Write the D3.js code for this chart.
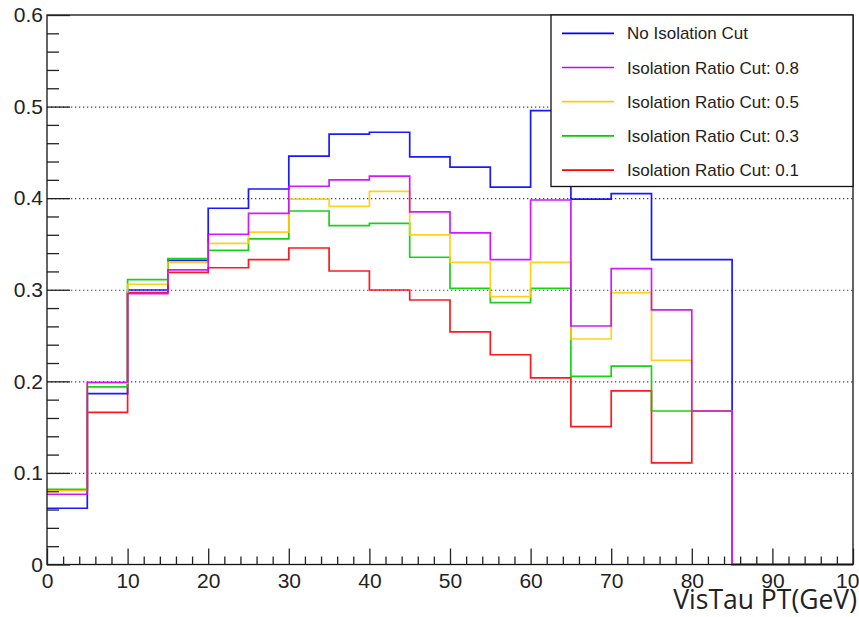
<!DOCTYPE html>
<html>
<head>
<meta charset="utf-8">
<script src="https://cdnjs.cloudflare.com/ajax/libs/d3/7.8.5/d3.min.js"></script>
<style>
	body { margin: 0; background: #fff; }
	svg { display: block; }
	.tick text { font-family: "Liberation Sans", Arial, sans-serif; font-size: 21px; fill: #222; }
	.legend text { font-family: "Liberation Sans", Arial, sans-serif; font-size: 17px; fill: #222; }
</style>
</head>
<body>
<div id="chart"></div>
<script>

// bin lower edges (GeV), width 5
var binLow = [0, 5, 10, 15, 20, 25, 30, 35, 40, 45, 50, 55, 60, 65, 70, 75, 80, 85, 90, 95]
var binWidth = 5

var noCut  = [0.0614, 0.1865, 0.2997, 0.332, 0.389, 0.410, 0.446, 0.470, 0.472, 0.445, 0.434, 0.412, 0.4955, 0.399, 0.405, 0.333, 0.333, 0, 0, 0]
var cut08  = [0.0767, 0.199, 0.2957, 0.3216, 0.3606, 0.3835, 0.413, 0.420, 0.424, 0.385, 0.362, 0.333, 0.398, 0.2604, 0.323, 0.278, 0.1676, 0, 0, 0]
var cut05  = [0.0806, 0.198, 0.306, 0.330, 0.3507, 0.363, 0.399, 0.391, 0.4075, 0.360, 0.330, 0.2924, 0.330, 0.2462, 0.2968, 0.223, 0.1676, 0, 0, 0]
var cut03  = [0.082, 0.194, 0.311, 0.334, 0.343, 0.3555, 0.386, 0.370, 0.3725, 0.3355, 0.3016, 0.286, 0.3016, 0.2055, 0.2167, 0.1676, 0.1676, 0, 0, 0]
var cut01  = [0.0815, 0.166, 0.297, 0.319, 0.324, 0.333, 0.3456, 0.3205, 0.2997, 0.2888, 0.2539, 0.229, 0.2037, 0.1505, 0.1895, 0.111, 0.1676, 0, 0, 0]

var legendLabels = ["No Isolation Cut", "Isolation Ratio Cut: 0.8", "Isolation Ratio Cut: 0.5", "Isolation Ratio Cut: 0.3", "Isolation Ratio Cut: 0.1"]
var yTicks = [0, 0.1, 0.2, 0.3, 0.4, 0.5, 0.6]
var xTicks = [0, 10, 20, 30, 40, 50, 60, 70, 80, 90, 100]

var series = [
	{name: legendLabels[0], values: noCut, color: "#0000ff"},
	{name: legendLabels[1], values: cut08, color: "#cc00ff"},
	{name: legendLabels[2], values: cut05, color: "#ffcc00"},
	{name: legendLabels[3], values: cut03, color: "#00cc00"},
	{name: legendLabels[4], values: cut01, color: "#ff0000"}
]
// drawing order: first one ends up underneath
var drawOrder = [0, 4, 3, 2, 1]

var width = 859, height = 617
var margin = {left: 47, right: 6, top: 15, bottom: 52.5}

var x = d3.scaleLinear().domain([0, 100]).range([margin.left, width - margin.right])
var y = d3.scaleLinear().domain([0, 0.6]).range([height - margin.bottom, margin.top])

var svg = d3.select("#chart").append("svg")
	.attr("width", width)
	.attr("height", height)

svg.append("rect")
	.attr("width", width)
	.attr("height", height)
	.attr("fill", "#fff")

// horizontal dotted grid
svg.append("g")
	.selectAll("line")
	.data(yTicks.slice(1, -1))
	.enter().append("line")
	.attr("x1", x(0))
	.attr("x2", x(100))
	.attr("y1", function(d) { return y(d) + 0.5; })
	.attr("y2", function(d) { return y(d) + 0.5; })
	.attr("stroke", "#444")
	.attr("stroke-width", 1.2)
	.attr("stroke-dasharray", "1.3,2.7")

// histogram outlines
function stepPath(vals) {
	var p = d3.path()
	p.moveTo(x(binLow[0]), y(vals[0]))
	vals.forEach(function(v, i) {
		if (i > 0) p.lineTo(x(binLow[i]), y(v))
		p.lineTo(x(binLow[i] + binWidth), y(v))
	})
	return p.toString()
}

svg.append("g")
	.selectAll("path")
	.data(drawOrder.map(function(i) { return series[i]; }))
	.enter().append("path")
	.attr("d", function(d) { return stepPath(d.values); })
	.attr("fill", "none")
	.attr("stroke", function(d) { return d.color; })
	.attr("stroke-width", 1.7)
	.attr("opacity", 0.9)

// frame
svg.append("rect")
	.attr("x", x(0))
	.attr("y", y(0.6))
	.attr("width", x(100) - x(0))
	.attr("height", y(0) - y(0.6))
	.attr("fill", "none")
	.attr("stroke", "#111")
	.attr("stroke-width", 1.3)

// y axis: major + minor ticks pointing inward
var yMinor = []
yTicks.slice(0, -1).forEach(function(t) {
	[0.02, 0.04, 0.06, 0.08].forEach(function(s) { yMinor.push(t + s) })
})

svg.append("g")
	.attr("transform", "translate(" + x(0) + ",0)")
	.call(d3.axisLeft(y).tickValues(yMinor).tickSize(-12).tickFormat(""))
	.call(function(g) { g.select(".domain").remove(); })
	.selectAll("line").attr("stroke", "#222").attr("stroke-width", 1.3)

svg.append("g")
	.attr("transform", "translate(" + x(0) + ",0)")
	.call(d3.axisLeft(y).tickValues(yTicks).tickSize(-23).tickPadding(4)
		.tickFormat(function(d) { return d === 0 ? "0" : d3.format(".1f")(d); }))
	.call(function(g) { g.select(".domain").remove(); })
	.call(function(g) { g.selectAll("line").attr("stroke", "#222").attr("stroke-width", 1.3); })

// x axis
var xMinor = []
xTicks.slice(0, -1).forEach(function(t) {
	[2, 4, 6, 8].forEach(function(s) { xMinor.push(t + s) })
})

svg.append("g")
	.attr("transform", "translate(0," + y(0) + ")")
	.call(d3.axisBottom(x).tickValues(xMinor).tickSize(-8).tickFormat(""))
	.call(function(g) { g.select(".domain").remove(); })
	.selectAll("line").attr("stroke", "#222").attr("stroke-width", 1.3)

svg.append("g")
	.attr("transform", "translate(0," + y(0) + ")")
	.call(d3.axisBottom(x).tickValues(xTicks).tickSize(-16).tickPadding(8.5).tickFormat(d3.format("d")))
	.call(function(g) { g.select(".domain").remove(); })
	.call(function(g) { g.selectAll("line").attr("stroke", "#222").attr("stroke-width", 1.3); })

// axis title
svg.append("text")
	.attr("x", 857)
	.attr("y", 609)
	.attr("text-anchor", "end")
	.style("font-family", "'Open Sans', 'Noto Sans', sans-serif")
	.style("font-size", "26.5px")
	.style("fill", "#222")
	.text("VisTau PT(GeV)")

// legend
var legend = svg.append("g").attr("class", "legend")

legend.append("rect")
	.attr("x", 551)
	.attr("y", 15)
	.attr("width", 302)
	.attr("height", 171.5)
	.attr("fill", "#fff")
	.attr("stroke", "#111")
	.attr("stroke-width", 1.3)

var rows = legend.selectAll(".row")
	.data(series)
	.enter().append("g")
	.attr("class", "row")
	.attr("transform", function(d, i) { return "translate(0," + (33.3 + i * 34.2) + ")"; })

rows.append("line")
	.attr("x1", 562)
	.attr("x2", 614)
	.attr("stroke", function(d) { return d.color; })
	.attr("stroke-width", 1.7)

rows.append("text")
	.attr("x", 627)
	.attr("dy", "0.36em")
	.text(function(d) { return d.name; })

</script>
</body>
</html>
